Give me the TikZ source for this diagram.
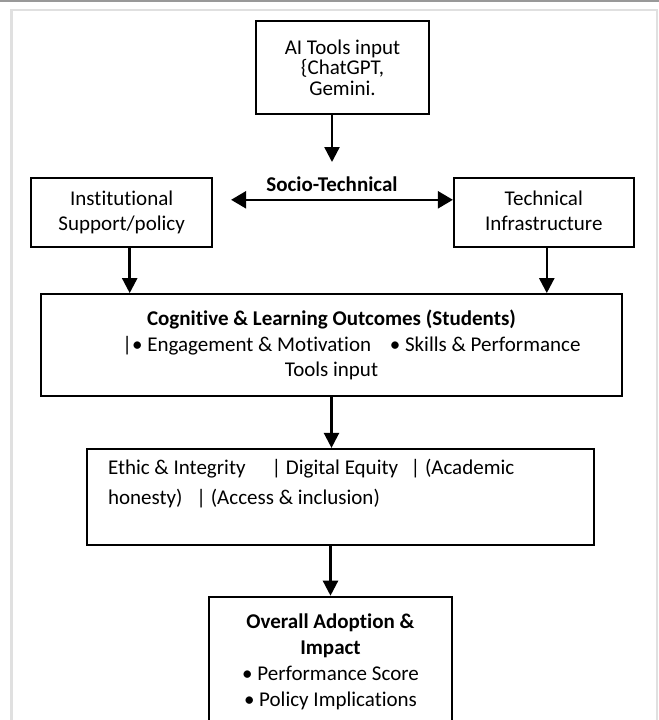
\documentclass[tikz,border=0pt]{standalone}
\usepackage{fontspec}
\setmainfont{Carlito}[Ligatures={NoCommon}]
\usetikzlibrary{arrows.meta,positioning}

\begin{document}
\begin{tikzpicture}[
      x=0.5pt, y=-0.5pt,
      box_node/.style={
         rectangle,
         draw=black,
         line width=0.9pt,
         inner sep=2pt,
         align=center,
         font=\fontsize{10.5}{12.75}\selectfont},
      arrow_black/.style={
        -{Triangle[length=7.5pt,width=7.5pt]},
        line width=1.2pt,
      },
      arrow_both/.style={
        {Triangle[length=7.5pt,width=8.5pt]}-{Triangle[length=7.5pt,width=8.5pt]},
        line width=1.2pt,
      },
      frame_line/.style={
        draw=black!12,
        line width=1.2pt},
]
      \useasboundingbox (0,0) rectangle (659,720);
      \clip (0,0) rectangle (659,720);
      \fill[white] (0,0) rectangle (659,720);

      %page frame
      \draw[black!40, line width=0.6pt] (0,1) -- (659,1);
      \draw[frame_line] (11.5,720) -- (11.5,10) -- (657,10) -- (657,720);

      %inputs
      \node[box_node, minimum width=86.5pt, minimum height=46.5pt,
        font=\fontsize{10.5}{10.25}\selectfont] (ai) at (342.5,67.5)
        {AI Tools input\\\{ChatGPT,\\Gemini.};
      \coordinate (aitip) at (332,162);

      \node[box_node, below left=31pt and 21pt of ai,
        minimum width=90.5pt, minimum height=34.5pt, text depth=1.5pt,
        font=\fontsize{10.5}{12.5}\selectfont] (inst) {Institutional\\Support/policy};
      \node[box_node, below right=31pt and 11.5pt of ai,
        minimum width=90pt, minimum height=34.5pt, text depth=1.5pt,
        font=\fontsize{10.5}{12.5}\selectfont] (tech) {Technical\\Infrastructure};

      %outcomes
      \node[box_node, minimum width=290.5pt, minimum height=51pt] (cog) at (331.5,345)
        {\textbf{Cognitive \& Learning Outcomes (Students)}\\
         \hspace*{20pt}|• Engagement \& Motivation\hspace{7pt} • Skills \& Performance\\
         Tools input};

      \node[box_node, below=25.5pt of cog, xshift=4.5pt,
        minimum height=48pt, inner xsep=10.5pt, text width=232.5pt, align=flush left,
        font=\fontsize{10.5}{15}\selectfont] (ethic)
        {Ethic \& Integrity\hspace{13pt}| Digital Equity\hspace{6.25pt}| (Academic\\
         honesty)\hspace{7pt}| (Access \& inclusion)\\ \mbox{}};

      \node[box_node, below=25pt of ethic, xshift=-5pt,
        minimum width=121.5pt, minimum height=65pt,
        font=\fontsize{10.5}{13}\selectfont] (overall)
        {\textbf{Overall Adoption \&}\\\textbf{Impact}\\• Performance Score\\• Policy Implications};

      %connectors
      \draw[arrow_black] ([xshift=-5.25pt]ai.south) -- (aitip);
      \draw[arrow_both] ([xshift=9pt,yshift=6.25pt]inst.east) --
        node[above, pos=0.455, font=\fontsize{10.5}{12}\selectfont\bfseries] (socio) {Socio-Technical}
        ([yshift=6.25pt]tech.west);

    \foreach \i/\j/\dx in {% start node/end node/shift
      inst/cog/4pt,
      tech/cog/1.5pt,
      cog/ethic/0pt}
      \draw[arrow_black] ([xshift=\dx]\i.south) -- ([xshift=\dx]\i.south |- \j.north);
      \draw[arrow_black] (overall.north |- ethic.south) -- (overall.north);

\end{tikzpicture}
\end{document}
